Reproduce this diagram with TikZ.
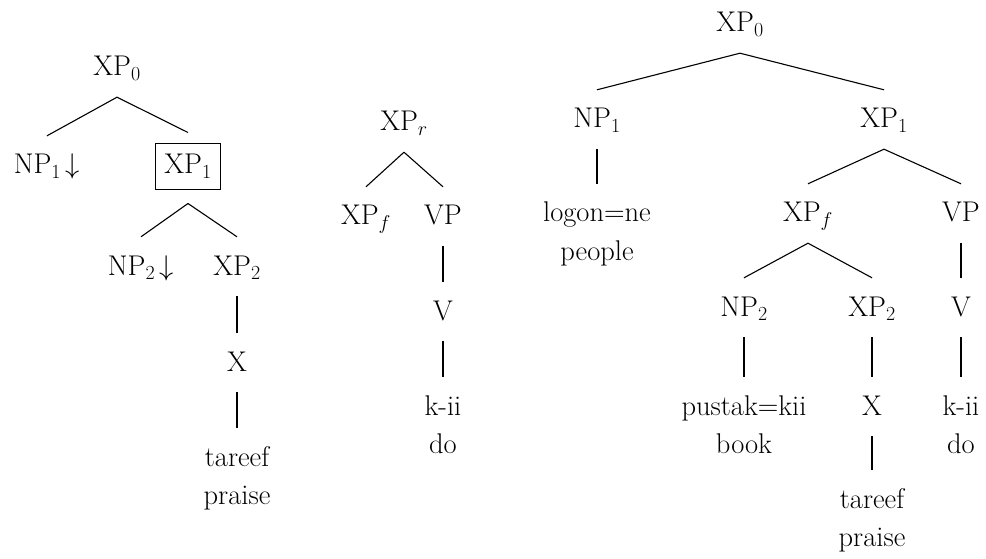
\RequirePackage{fix-cm}
\documentclass[tikz,border=0pt]{standalone}
\begin{document}
\begin{tikzpicture}[x=1pt,y=-1pt,
  every node/.style={font=\fontsize{28.5}{38.5}\selectfont},
  tn/.style={anchor=base,inner sep=0pt,text height=38pt,text depth=21pt},
  boxn/.style={anchor=base,draw,line width=1pt,inner xsep=9pt,inner ysep=6pt,text height=24pt,text depth=10pt},
  br/.style={line width=1.1pt}]
\useasboundingbox (0,0) rectangle (986,559);
% tree 1
\node[tn] (a0) at (117,76) {XP$_0$};
\node[tn] (a1) at (47,174) {NP$_1$\,$\downarrow$};
\node[boxn] (a2) at (188,174) {XP$_1$};
\node[tn] (a3) at (141,275) {NP$_2$\,$\downarrow$};
\node[tn] (a4) at (237,275) {XP$_2$};
\node[tn] (a5) at (237,371) {X};
\node[tn] (a6) at (237,466) {\begin{tabular}[t]{@{}c@{}}tareef\\praise\end{tabular}};
\draw[br] (a0.south) -- (a1.north);
\draw[br] (a0.south) -- ([yshift=11pt]a2.north);
\draw[br] ([yshift=-13pt]a2.south) -- (a3.north);
\draw[br] ([yshift=-13pt]a2.south) -- (a4.north);
\draw[br] (a4.south) -- (a5.north);
\draw[br] (a5.south) -- (a6.north);
% tree 2
\node[tn] (b0) at (404,131) {XP$_r$};
\node[tn] (b1) at (366,225) {XP$_f$};
\node[tn] (b2) at (443,225) {VP};
\node[tn] (b3) at (443,320) {V};
\node[tn] (b4) at (443,415) {\begin{tabular}[t]{@{}c@{}}k-ii\\do\end{tabular}};
\draw[br] (b0.south) -- (b1.north);
\draw[br] (b0.south) -- (b2.north);
\draw[br] (b2.south) -- (b3.north);
\draw[br] (b3.south) -- (b4.north);
% tree 3
\node[tn] (c0) at (740,32) {XP$_0$};
\node[tn] (c1) at (597,128) {NP$_1$};
\node[tn] (c2) at (884,128) {XP$_1$};
\node[tn] (c3) at (597,222) {\begin{tabular}[t]{@{}c@{}}logon=ne\\people\end{tabular}};
\node[tn] (c4) at (808,222) {XP$_f$};
\node[tn] (c5) at (961,222) {VP};
\node[tn] (c6) at (744,316) {NP$_2$};
\node[tn] (c7) at (872,316) {XP$_2$};
\node[tn] (c8) at (961,316) {V};
\node[tn] (c9) at (744,415) {\begin{tabular}[t]{@{}c@{}}pustak=kii\\book\end{tabular}};
\node[tn] (c10) at (872,415) {X};
\node[tn] (c11) at (961,415) {\begin{tabular}[t]{@{}c@{}}k-ii\\do\end{tabular}};
\node[tn] (c12) at (872,508) {\begin{tabular}[t]{@{}c@{}}tareef\\praise\end{tabular}};
\draw[br] (c0.south) -- (c1.north);
\draw[br] (c0.south) -- (c2.north);
\draw[br] (c1.south) -- (c3.north);
\draw[br] (c2.south) -- (c4.north);
\draw[br] (c2.south) -- (c5.north);
\draw[br] (c4.south) -- (c6.north);
\draw[br] (c4.south) -- (c7.north);
\draw[br] (c5.south) -- (c8.north);
\draw[br] (c6.south) -- (c9.north);
\draw[br] (c7.south) -- (c10.north);
\draw[br] (c8.south) -- (c11.north);
\draw[br] (c10.south) -- (c12.north);
\end{tikzpicture}
\end{document}
